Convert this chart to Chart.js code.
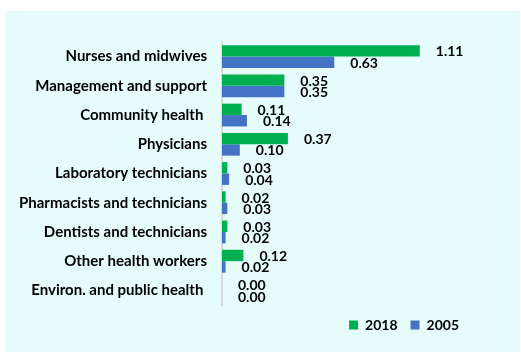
<!DOCTYPE html>
<html>
<head>
<meta charset="UTF-8">
<title>Health workers per 1000 population</title>
<script src="https://cdn.jsdelivr.net/npm/chart.js"></script>
<style>
  body { margin: 0; background: #fff; }
  #panel { position: absolute; left: 5px; top: 11px; width: 515px; height: 341px; background: #E5FCFB; }
</style>
</head>
<body>
<div id="panel"><canvas id="workers" width="515" height="341"></canvas></div>
<script>
var cadres = [
    'Nurses and midwives',
    'Management and support',
    'Community health ',
    'Physicians',
    'Laboratory technicians',
    'Pharmacists and technicians',
    'Dentists and technicians',
    'Other health workers',
    'Environ. and public health '
];
var values2018 = [1.11, 0.35, 0.11, 0.37, 0.03, 0.02, 0.03, 0.12, 0.00];
var values2005 = [0.63, 0.35, 0.14, 0.10, 0.04, 0.03, 0.02, 0.02, 0.00];

var labelFont = 'bold 14px Lato, "Open Sans", sans-serif';

// writes the value just past the end of each bar
var valueLabels = {
    id: 'valueLabels',
    afterDatasetsDraw: function(chart){
        var ctx = chart.ctx;
        ctx.save();
        ctx.font = labelFont;
        ctx.fillStyle = '#000';
        ctx.textAlign = 'left';
        ctx.textBaseline = 'middle';
        chart.data.datasets.forEach(function(ds, i){
            chart.getDatasetMeta(i).data.forEach(function(bar, j){
                ctx.fillText(ds.data[j].toFixed(2), bar.x + 16, bar.y + 1);
            });
        });
        ctx.restore();
    }
};

var ctx = document.getElementById('workers').getContext('2d');
new Chart(ctx, {
    type: 'bar',
    data: {
        labels: cadres,
        datasets: [{
            label: '2018',
            data: values2018,
            backgroundColor: '#00B050',
            categoryPercentage: 0.78,
            barPercentage: 1.0
        }, {
            label: '2005',
            data: values2005,
            backgroundColor: '#4472C4',
            categoryPercentage: 0.78,
            barPercentage: 1.0
        }]
    },
    options: {
        indexAxis: 'y',
        responsive: false,
        animation: false,
        layout: {
            padding: { top: 31, right: 48, bottom: 10, left: 0 }
        },
        scales: {
            x: {
                display: false,
                min: 0,
                max: 1.403
            },
            y: {
                afterFit: function(scale){ scale.width = 217; },
                grid: { display: false, drawTicks: false, tickLength: 0 },
                border: { display: true, color: '#D9D9D9', width: 2 },
                ticks: {
                    padding: 15,
                    color: '#000',
                    font: { family: 'Lato, "Open Sans", sans-serif', size: 15, weight: 'bold' }
                }
            }
        },
        plugins: {
            legend: {
                position: 'bottom',
                align: 'end',
                labels: {
                    boxWidth: 9,
                    boxHeight: 9,
                    padding: 13,
                    color: '#000',
                    font: { family: 'Lato, "Open Sans", sans-serif', size: 14, weight: 'bold' }
                }
            },
            tooltip: { enabled: false }
        }
    },
    plugins: [valueLabels]
});
</script>
</body>
</html>
